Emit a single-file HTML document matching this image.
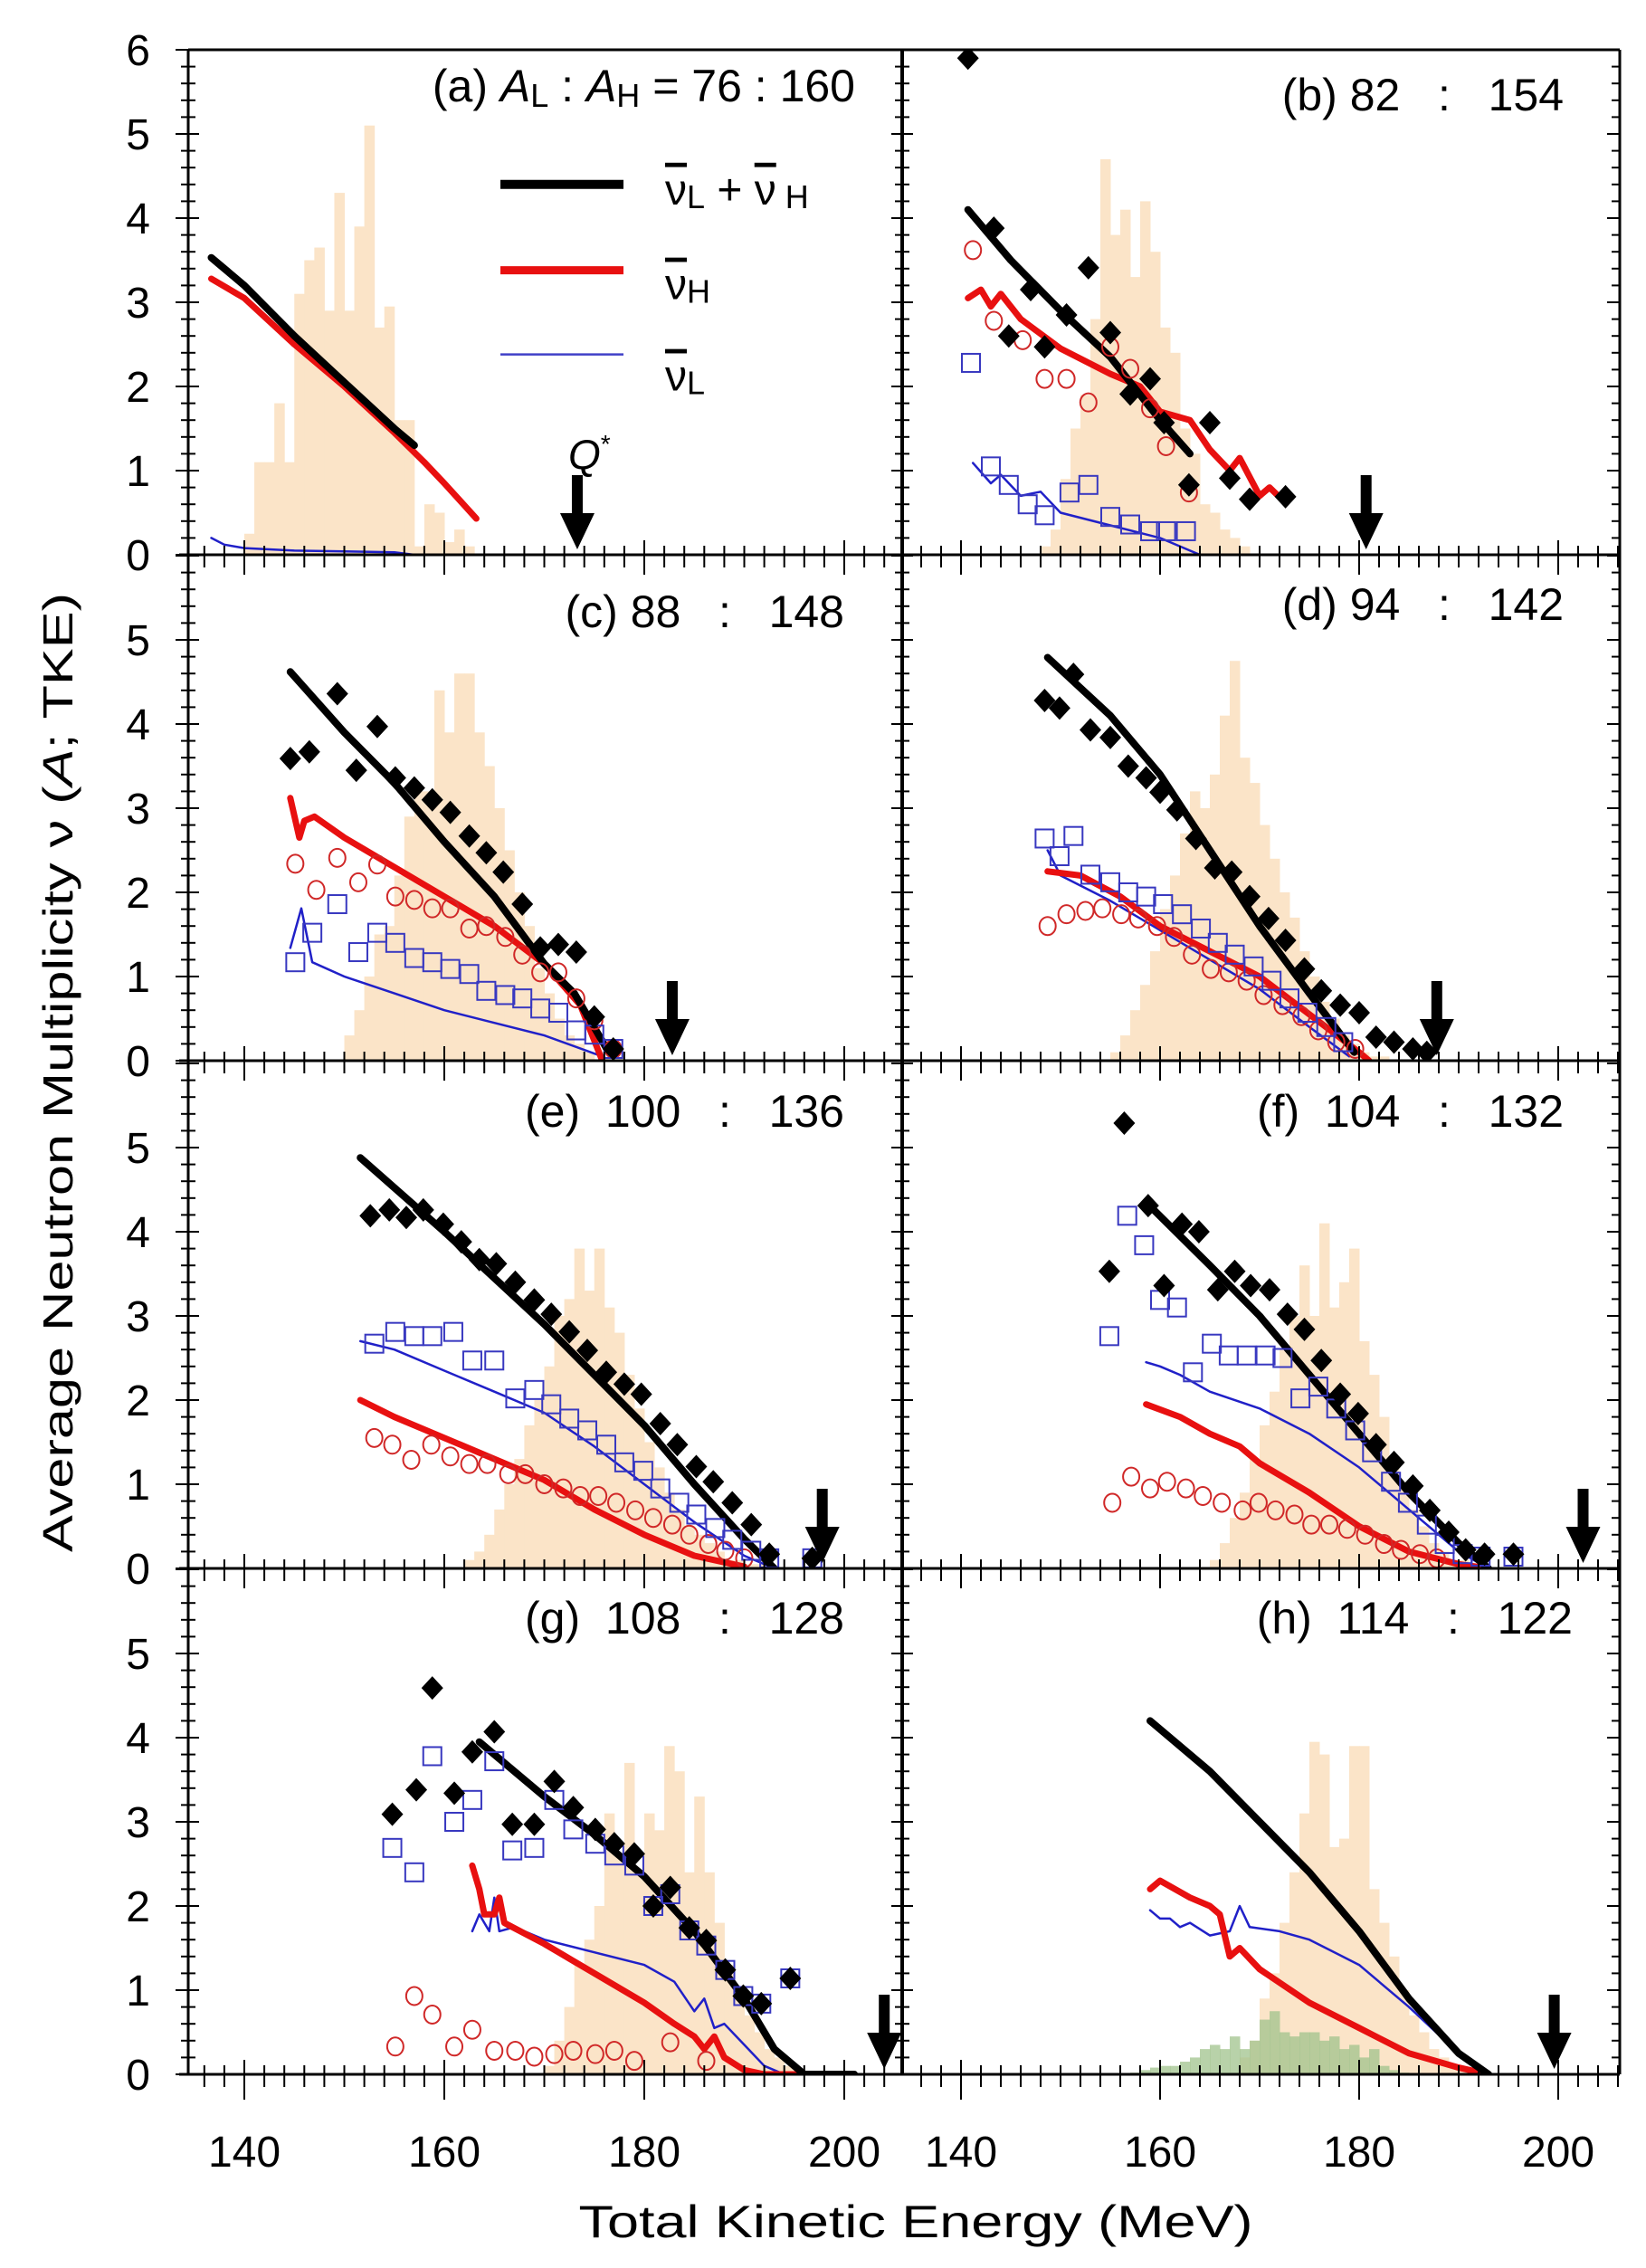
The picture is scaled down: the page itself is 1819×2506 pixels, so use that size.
<!DOCTYPE html>
<html><head><meta charset="utf-8"><title>Average neutron multiplicity vs TKE</title>
<style>
html,body{margin:0;padding:0;background:#fff;}
svg{display:block;}
text{font-family:"Liberation Sans",Arial,sans-serif;fill:#000;}
</style></head>
<body>
<svg id="chart" width="1819" height="2506" viewBox="0 0 1819 2506" xmlns="http://www.w3.org/2000/svg">
<defs>
<clipPath id="clipL0"><rect x="208" y="55" width="789" height="558"/></clipPath>
<clipPath id="clipR0"><rect x="997" y="55" width="793" height="558"/></clipPath>
<clipPath id="clipL1"><rect x="208" y="613" width="789" height="559"/></clipPath>
<clipPath id="clipR1"><rect x="997" y="613" width="793" height="559"/></clipPath>
<clipPath id="clipL2"><rect x="208" y="1172" width="789" height="561"/></clipPath>
<clipPath id="clipR2"><rect x="997" y="1172" width="793" height="561"/></clipPath>
<clipPath id="clipL3"><rect x="208" y="1733" width="789" height="559"/></clipPath>
<clipPath id="clipR3"><rect x="997" y="1733" width="793" height="559"/></clipPath>
</defs>
<g id="marks"></g>
<g id="axes"></g>
</svg>
<script>
// ---------- data ----------
const panelLabels = ["(a)","(b) 82   :   154","(c) 88   :   148","(d) 94   :   142","(e)  100   :   136","(f)  104   :   132","(g)  108   :   128","(h)  114   :   122"];
const xTickValues = [140,160,180,200];
const yTickLabelsTop = [0,1,2,3,4,5,6];
const yTickLabels = [0,1,2,3,4,5];
const qArrows = [173.3,180.7,182.8,187.8,197.8,202.5,204,199.6];

const aBlack=[[136.7,3.53],[140,3.2],[145,2.6],[150,2.05],[155,1.5],[157,1.3]];
const aRed=[[136.7,3.28],[140,3.05],[145,2.5],[150,2.0],[155,1.45],[158,1.1],[160,0.85],[163.2,0.43]];
const aBlue=[[136.7,0.2],[138,0.12],[140,0.08],[145,0.05],[150,0.04],[155,0.03],[157,0.0]];
const aHistStart=140;
const aHist=[0.25,1.1,1.1,1.8,1.1,3.1,3.5,3.65,2.9,4.3,2.9,3.9,5.1,2.7,2.95,1.6,1.6,0.1,0.6,0.5,0.15,0.3,0.1];

const bBlack=[[140.7,4.1],[145,3.5],[150,2.9],[155,2.35],[160,1.6],[163,1.2]];
const bRed=[[140.7,3.05],[142,3.15],[143,2.95],[144,3.1],[146,2.8],[150,2.45],[155,2.15],[158,2.0],[160,1.7],[163,1.6],[165,1.25],[167,1.0],[168,1.15],[170,0.7],[171,0.8],[172.3,0.65]];
const bBlue=[[141.2,1.09],[143,0.85],[144,0.95],[146,0.7],[148,0.75],[150,0.5],[155,0.35],[160,0.2],[164,0]];
const bDiam=[[140.7,5.9],[143.3,3.88],[144.8,2.6],[147,3.15],[148.4,2.47],[150.6,2.85],[152.8,3.41],[155,2.64],[157,1.91],[159,2.09],[160.4,1.57],[162.9,0.83],[165,1.57],[167,0.91],[169,0.66],[172.6,0.69]];
const bCirc=[[141.2,3.62],[143.3,2.78],[146.2,2.55],[148.4,2.09],[150.6,2.09],[152.8,1.81],[155,2.47],[157,2.21],[159,1.74],[160.6,1.29],[162.9,0.74]];
const bSq=[[141,2.28],[143,1.05],[144.8,0.83],[146.7,0.6],[148.4,0.47],[150.9,0.74],[152.8,0.83],[155,0.45],[157,0.36],[159,0.28],[160.6,0.28],[162.6,0.28]];
const bHistStart=148;
const bHist=[0.1,0.3,0.9,1.5,1.9,2.8,4.7,3.8,4.1,3.3,4.2,3.6,2.7,2.4,1.5,1.2,0.6,0.5,0.3,0.2,0.1];

const cBlack=[[144.6,4.62],[150,3.9],[155,3.3],[160,2.6],[165,1.95],[170,1.15],[173,0.8],[176.5,0.09]];
const cRed=[[144.6,3.12],[145.5,2.65],[146,2.85],[147,2.9],[150,2.65],[155,2.3],[160,1.95],[165,1.6],[170,1.15],[173.6,0.66],[175.8,0]];
const cBlue=[[144.6,1.34],[145.7,1.81],[146.8,1.17],[150,1.0],[155,0.8],[160,0.6],[165,0.45],[170,0.3],[175.8,0.05]];
const cDiam=[[144.6,3.59],[146.5,3.67],[149.3,4.36],[151.2,3.45],[153.3,3.97],[155.1,3.36],[157,3.24],[158.8,3.1],[160.6,2.95],[162.5,2.67],[164.2,2.47],[165.9,2.24],[167.8,1.86],[169.6,1.34],[171.4,1.38],[173.2,1.29],[175,0.52],[176.9,0.14]];
const cCirc=[[145.1,2.34],[147.2,2.03],[149.3,2.41],[151.4,2.12],[153.3,2.33],[155.1,1.95],[157,1.91],[158.8,1.81],[160.6,1.81],[162.5,1.57],[164.2,1.6],[166.1,1.47],[167.8,1.26],[169.6,1.05],[171.4,1.05],[173.2,0.74],[175,0.48],[176.9,0.14]];
const cSq=[[145.1,1.17],[146.8,1.52],[149.3,1.86],[151.4,1.29],[153.3,1.52],[155.1,1.4],[157,1.22],[158.8,1.17],[160.6,1.09],[162.5,1.03],[164.2,0.83],[166.1,0.78],[167.8,0.74],[169.6,0.62],[171.4,0.57],[173.2,0.36],[175,0.31],[176.9,0.14]];
const cHistStart=150;
const cHist=[0.3,0.6,1.0,1.5,1.6,2.2,2.9,3.2,3.2,4.4,3.9,4.6,4.6,3.9,3.5,3.0,2.5,2.0,1.6,1.1,0.8,0.5,0.3,0.2,0.1];

const dBlack=[[148.7,4.79],[155,4.1],[160,3.4],[165,2.5],[170,1.6],[175,0.8],[179.5,0.1]];
const dRed=[[148.7,2.25],[152,2.2],[156,1.95],[160,1.6],[165,1.3],[170,1.0],[175,0.55],[180,0.1],[181,0]];
const dBlue=[[148.7,2.5],[150,2.2],[155,1.9],[160,1.55],[165,1.2],[170,0.85],[175,0.4],[179,0.05]];
const dDiam=[[148.4,4.28],[149.9,4.19],[151.3,4.59],[153,3.93],[155,3.84],[156.8,3.5],[158.6,3.36],[160,3.19],[161.7,2.98],[163.6,2.64],[165.5,2.29],[167.2,2.24],[169,1.95],[170.9,1.69],[172.6,1.43],[174.5,1.09],[176.2,0.83],[178.1,0.66],[180,0.57],[181.7,0.28],[183.5,0.22],[185.4,0.14],[186.8,0.1]];
const dCirc=[[148.7,1.6],[150.6,1.74],[152.5,1.78],[154.2,1.81],[156.1,1.74],[157.8,1.69],[159.7,1.6],[161.4,1.47],[163.2,1.26],[165.1,1.09],[166.9,1.05],[168.7,0.95],[170.4,0.78],[172.3,0.66],[174.2,0.53],[175.9,0.36],[177.7,0.22],[179.6,0.14]];
const dSq=[[148.4,2.64],[149.9,2.43],[151.3,2.67],[153,2.21],[155,2.12],[156.8,2.0],[158.6,1.95],[160.3,1.86],[162.2,1.74],[164.1,1.57],[165.8,1.4],[167.5,1.26],[169.4,1.12],[171.2,0.95],[173,0.74],[174.8,0.57],[176.7,0.4],[178.4,0.22]];
const dHistStart=155;
const dHist=[0.1,0.3,0.6,0.9,1.3,1.8,2.2,2.7,3.2,3.0,3.4,4.1,4.75,3.6,3.3,2.8,2.4,2.0,1.7,1.3,1.0,0.7,0.5,0.3,0.2,0.1,0.05,0.05];

const eBlack=[[151.6,4.88],[160,4.0],[170,2.9],[180,1.7],[185,1.0],[190,0.35],[193,0]];
const eRed=[[151.6,2.0],[155,1.8],[160,1.55],[165,1.3],[170,1.05],[175,0.7],[180,0.4],[185,0.15],[190,0.02]];
const eBlue=[[151.6,2.7],[155,2.6],[160,2.35],[165,2.1],[170,1.85],[175,1.45],[180,1.0],[185,0.55],[190,0.15],[193,0]];
const eDiam=[[152.6,4.19],[154.5,4.26],[156.2,4.17],[157.9,4.26],[159.9,4.09],[161.7,3.88],[163.5,3.67],[165.2,3.62],[167.1,3.4],[169,3.19],[170.7,3.02],[172.5,2.81],[174.3,2.59],[176.2,2.33],[178,2.19],[179.7,2.07],[181.6,1.72],[183.3,1.47],[185.2,1.21],[186.9,1.03],[188.8,0.78],[190.7,0.52],[192.5,0.17],[196.8,0.12]];
const eSq=[[153,2.67],[155.1,2.81],[157,2.76],[158.8,2.76],[160.9,2.81],[162.8,2.47],[165,2.47],[167.1,2.02],[169,2.12],[170.7,1.95],[172.5,1.78],[174.3,1.64],[176.2,1.47],[178,1.26],[179.9,1.16],[181.6,0.95],[183.5,0.78],[185.2,0.64],[187.1,0.48],[188.8,0.34],[190.7,0.21],[192.5,0.12],[196.8,0.12]];
const eCirc=[[153,1.55],[154.8,1.47],[156.7,1.29],[158.7,1.47],[160.6,1.33],[162.5,1.24],[164.3,1.24],[166.4,1.12],[168.1,1.12],[170,1.0],[171.9,0.95],[173.6,0.86],[175.4,0.86],[177.2,0.78],[179.1,0.69],[180.9,0.6],[182.8,0.52],[184.5,0.4],[186.4,0.29],[188.1,0.21],[190,0.12]];
const eHistStart=162;
const eHist=[0.1,0.2,0.4,0.7,1.0,1.3,1.7,2.0,2.4,3.0,3.2,3.8,3.3,3.8,3.1,2.8,2.3,1.9,1.5,1.2,0.9,0.7,0.5,0.4,0.3,0.2,0.1,0.1,0.05,0.05];

const fBlack=[[158.6,4.35],[165,3.6],[170,3.0],[175,2.3],[180,1.6],[185,0.9],[190,0.3],[193,0]];
const fRed=[[158.6,1.95],[162,1.8],[165,1.6],[168,1.45],[170,1.25],[175,0.9],[180,0.5],[185,0.2],[190,0.05],[193,0]];
const fBlue=[[158.6,2.45],[160,2.4],[162,2.3],[165,2.1],[170,1.9],[175,1.6],[180,1.2],[185,0.7],[190,0.2],[193,0]];
const fDiam=[[156.4,5.29],[154.9,3.53],[158.8,4.31],[160.4,3.36],[162.2,4.09],[163.9,4.0],[165.8,3.31],[167.5,3.53],[169.1,3.36],[171,3.31],[172.8,3.02],[174.5,2.84],[176.2,2.47],[178.1,2.07],[179.9,1.84],[181.7,1.47],[183.5,1.26],[185.4,0.98],[187.1,0.69],[189,0.43],[190.7,0.22],[192.6,0.17],[195.5,0.17]];
const fSq=[[154.9,2.76],[156.7,4.19],[158.4,3.84],[160,3.19],[161.7,3.1],[163.3,2.33],[165.2,2.67],[166.9,2.53],[168.7,2.53],[170.6,2.53],[172.3,2.5],[174.1,2.02],[175.9,2.16],[177.7,1.9],[179.6,1.64],[181.3,1.38],[183.2,1.03],[184.9,0.78],[186.8,0.52],[188.6,0.29],[190.4,0.17],[192.2,0.14],[195.5,0.14]];
const fCirc=[[155.2,0.78],[157.1,1.09],[159,0.95],[160.7,1.03],[162.6,0.95],[164.3,0.86],[166.2,0.78],[168.3,0.69],[169.9,0.78],[171.6,0.69],[173.5,0.64],[175.2,0.52],[177,0.52],[178.8,0.47],[180.6,0.4],[182.5,0.29],[184.2,0.22],[186.1,0.17],[187.8,0.12]];
const fHistStart=165;
const fHist=[0.1,0.3,0.6,0.9,1.3,1.7,2.1,2.6,3.0,3.6,3.0,4.1,3.1,3.4,3.8,2.7,2.3,1.8,1.3,1.0,0.7,0.5,0.3,0.2,0.1,0.1,0.05];

const gBlack=[[163.5,3.95],[170,3.3],[175,2.85],[180,2.35],[185,1.7],[190,0.9],[193,0.3],[196,0],[201,0]];
const gRed=[[162.8,2.48],[163.5,2.2],[164,1.9],[165,1.9],[165.5,2.1],[166,1.8],[170,1.55],[175,1.2],[180,0.85],[183,0.6],[185,0.45],[186,0.3],[187,0.45],[188,0.2],[190,0.05],[192,0],[201,0]];
const gBlue=[[162.8,1.7],[163.5,1.9],[164.5,1.7],[165,2.1],[165.5,1.7],[167,1.75],[170,1.6],[175,1.45],[180,1.3],[183,1.1],[185,0.75],[186,0.9],[187,0.55],[188,0.6],[190,0.35],[192,0.1],[194,0]];
const gDiam=[[154.8,3.09],[157.2,3.38],[158.8,4.59],[161,3.34],[162.8,3.83],[165,4.07],[166.8,2.97],[169,2.97],[171,3.48],[172.9,3.17],[175.1,2.91],[177,2.74],[179,2.62],[180.9,2.0],[182.6,2.22],[184.5,1.74],[186.2,1.59],[188.1,1.24],[189.9,0.93],[191.7,0.84],[194.6,1.14]];
const gSq=[[154.8,2.69],[157,2.4],[158.8,3.78],[161,3.0],[162.8,3.26],[165,3.72],[166.8,2.66],[169,2.69],[171,3.26],[172.9,2.91],[175.1,2.74],[177,2.6],[179,2.48],[180.9,2.0],[182.6,2.14],[184.5,1.71],[186.2,1.53],[188.1,1.24],[189.9,0.93],[191.7,0.84],[194.6,1.14]];
const gCirc=[[155.1,0.33],[157,0.93],[158.8,0.71],[161,0.33],[162.8,0.53],[165,0.28],[167.1,0.28],[169,0.21],[171,0.24],[172.9,0.28],[175.1,0.24],[177,0.28],[179,0.16],[182.6,0.38],[186.2,0.16]];
const gHistStart=170;
const gHist=[0.1,0.4,0.8,1.3,1.6,2.0,3.1,2.6,3.7,2.4,3.1,2.9,3.9,3.6,2.4,3.3,2.4,1.8,1.3,1.0,0.7,0.5,0.3,0.2,0.1,0.05];

const hBlack=[[159,4.2],[165,3.6],[170,3.0],[175,2.4],[180,1.7],[185,0.9],[190,0.25],[193,0]];
const hRed=[[159,2.2],[160,2.3],[163,2.1],[165,2.0],[166,1.9],[167,1.4],[168,1.5],[170,1.25],[175,0.85],[180,0.55],[185,0.25],[190,0.08],[193,0]];
const hBlue=[[159,1.95],[160,1.85],[161,1.85],[162,1.75],[163,1.8],[165,1.65],[167,1.7],[168,2.0],[169,1.75],[172,1.7],[175,1.6],[180,1.3],[185,0.8],[190,0.25],[193,0]];
const hHistStart=168;
const hHist=[0.2,0.4,0.9,1.2,1.8,2.4,3.1,3.95,3.8,2.7,2.8,3.9,3.9,2.2,1.8,1.4,1.0,0.7,0.5,0.3,0.2,0.1,0.05,0.05];
const hGreenStart=157;
const hGreen=[0.02,0.05,0.08,0.1,0.1,0.15,0.2,0.3,0.35,0.3,0.45,0.3,0.4,0.65,0.75,0.5,0.45,0.5,0.5,0.4,0.45,0.3,0.35,0.2,0.3,0.1,0.05,0.02];

// ---------- geometry ----------
const NS="http://www.w3.org/2000/svg";
const rowBottom=[613,1172,1733,2292];
const rowTop=[55,613,1172,1733];
const unit=93;
const leftX0=208, midX=997, rightX1=1790;
function xScale(side,E){return side===0 ? 270+(E-140)*11.05 : 1062+(E-140)*11.0;}
function yScale(row,v){return rowBottom[row]-v*unit;}
const marks=document.getElementById('marks');
const axes=document.getElementById('axes');
function mk(tag,attrs,parent){const e=document.createElementNS(NS,tag);for(const k in attrs)e.setAttribute(k,attrs[k]);(parent||marks).appendChild(e);return e;}

const panels=[
 {id:'a',side:0,row:0,black:aBlack,red:aRed,blue:aBlue,hist:aHist,hs:aHistStart},
 {id:'b',side:1,row:0,black:bBlack,red:bRed,blue:bBlue,diam:bDiam,circ:bCirc,sq:bSq,hist:bHist,hs:bHistStart},
 {id:'c',side:0,row:1,black:cBlack,red:cRed,blue:cBlue,diam:cDiam,circ:cCirc,sq:cSq,hist:cHist,hs:cHistStart},
 {id:'d',side:1,row:1,black:dBlack,red:dRed,blue:dBlue,diam:dDiam,circ:dCirc,sq:dSq,hist:dHist,hs:dHistStart},
 {id:'e',side:0,row:2,black:eBlack,red:eRed,blue:eBlue,diam:eDiam,circ:eCirc,sq:eSq,hist:eHist,hs:eHistStart},
 {id:'f',side:1,row:2,black:fBlack,red:fRed,blue:fBlue,diam:fDiam,circ:fCirc,sq:fSq,hist:fHist,hs:fHistStart},
 {id:'g',side:0,row:3,black:gBlack,red:gRed,blue:gBlue,diam:gDiam,circ:gCirc,sq:gSq,hist:gHist,hs:gHistStart},
 {id:'h',side:1,row:3,black:hBlack,red:hRed,blue:hBlue,hist:hHist,hs:hHistStart,green:hGreen,gs:hGreenStart}
];

panels.forEach((p,i)=>{
  const g=mk('g',{'clip-path':`url(#clip${p.side?'R':'L'}${p.row})`});
  
  
  const X=E=>xScale(p.side,E), Y=v=>yScale(p.row,v);
  function hist(arr,start,color,name){
    arr.forEach((h,k)=>{
      const x0=X(start+k), x1=X(start+k+1);
      const r=mk('rect',{x:x0,y:Y(h),width:x1-x0+0.5,height:Y(0)-Y(h),fill:color},g);
      
      
    });
  }
  hist(p.hist,p.hs,'#fbe4c8','tke-histogram-bar');
  if(p.green) hist(p.green,p.gs,'rgba(160,195,140,0.75)','green-histogram-bar');
  function line(arr,color,w,name){
    const pl=mk('polyline',{points:arr.map(d=>X(d[0]).toFixed(1)+','+Y(d[1]).toFixed(1)).join(' '),fill:'none',stroke:color,'stroke-width':w,'stroke-linejoin':'round','stroke-linecap':'round'},g);
    
    
  }
  line(p.blue,'#2020c8',2.5,'nu-light-line');
  line(p.red,'#e81010',7,'nu-heavy-line');
  line(p.black,'#000',8,'nu-total-line');
  (p.circ||[]).forEach(d=>{
    const c=mk('ellipse',{cx:X(d[0]),cy:Y(d[1]),rx:9,ry:10,fill:'none',stroke:'#d02828','stroke-width':2},g);
    
    
  });
  (p.sq||[]).forEach(d=>{
    const s=mk('rect',{x:X(d[0])-10,y:Y(d[1])-10,width:20,height:20,fill:'none',stroke:'#3838c0','stroke-width':2},g);
    
    
  });
  (p.diam||[]).forEach(d=>{
    const x=X(d[0]),y=Y(d[1]);
    const m=mk('polygon',{points:`${x},${y-13} ${x+12},${y} ${x},${y+13} ${x-12},${y}`,fill:'#000'},g);
    
    
  });
  const ax=X(qArrows[i]), yb=Y(0)-6, yt=yb-82;
  const ar=mk('path',{d:`M${ax-6},${yt} L${ax+6},${yt} L${ax+6},${yb-40} L${ax+19},${yb-40} L${ax},${yb} L${ax-19},${yb-40} L${ax-6},${yb-40} Z`,fill:'#000'},g);
  
  
});

// ---------- axes / frames ----------
function ln(x1,y1,x2,y2,w,name){const l=mk('line',{x1,y1,x2,y2,stroke:'#000','stroke-width':w},axes);return l;}
ln(leftX0,55,rightX1,55,3,'frame-top');
ln(leftX0,55,leftX0,2292,3,'y-axis-left');
ln(midX,55,midX,2292,4,'panel-divider');
ln(rightX1,55,rightX1,2292,3,'frame-right');
rowBottom.forEach(yb=>ln(leftX0-10,yb,rightX1,yb,3,'x-axis-line'));
for(let side=0;side<2;side++){
  const xmin=side?midX:leftX0, xmax=side?rightX1:midX;
  for(let E=130;E<=210;E+=2){
    const x=xScale(side,E); if(x<xmin+2||x>xmax-2)continue;
    const major=(E%20===0);
    rowBottom.forEach((yb,r)=>{
      ln(x,yb,x,yb+(major?(r===3?28:22):14),2,major?'x-major-tick':'x-minor-tick');
      ln(x,yb,x,yb-(major?16:10),2,'x-tick-inner');
    });
  }
}
rowBottom.forEach((yb,r)=>{
  for(let k=0;k<=30;k++){
    const y=yb-k*unit/5; if(y<rowTop[r]-1)break;
    const major=(k%5===0);
    ln(leftX0-(major?14:8),y,leftX0+(major?12:8),y,2,major?'y-major-tick':'y-minor-tick');
    ln(midX-(major?12:8),y,midX+(major?12:8),y,2,'y-tick-divider');
    ln(rightX1-(major?14:9),y,rightX1,y,2,'y-tick-right');
  }
});
function txt(s,attrs,name){const t=mk('text',attrs,axes);t.textContent=s;return t;}
rowBottom.forEach((yb,r)=>{
  const labs=r===0?yTickLabelsTop:yTickLabels;
  labs.forEach(v=>txt(String(v),{x:166,y:yb-v*unit+17,'font-size':48,'text-anchor':'end'},'y-tick-label'));
});
for(let side=0;side<2;side++){
  xTickValues.forEach(v=>txt(String(v),{x:xScale(side,v),y:2394,'font-size':48,'text-anchor':'middle'},'x-tick-label'));
}
txt('Total  Kinetic  Energy  (MeV)',{x:1012,y:2472,'font-size':50,'text-anchor':'middle',textLength:745,lengthAdjust:'spacingAndGlyphs'},'x-axis-title');
const yt=txt('Average  Neutron  Multiplicity  ν (A; TKE)',{x:0,y:0,'font-size':46,'text-anchor':'middle',transform:'translate(80,1185) rotate(-90)',textLength:1060,lengthAdjust:'spacingAndGlyphs'},'y-axis-title');
yt.innerHTML='Average  Neutron  Multiplicity  ν (<tspan font-style="italic">A</tspan>; TKE)';

const labPos=[[945,112],[1728,122],[933,693],[1728,685],[933,1245],[1728,1245],[933,1805],[1738,1805]];
panels.forEach((p,i)=>{
  if(i===0){
    const t=txt('',{x:945,y:112,'font-size':50,'text-anchor':'end'},'panel-label-a');
    t.innerHTML='(a) <tspan font-style="italic">A</tspan><tspan font-size="36" dy="6">L</tspan><tspan dy="-6">  :  </tspan><tspan font-style="italic">A</tspan><tspan font-size="36" dy="6">H</tspan><tspan dy="-6">  =  76  :  160</tspan>';
  } else {
    const t=txt(panelLabels[i],{x:labPos[i][0],y:labPos[i][1],'font-size':50,'text-anchor':'end'},'panel-label-'+p.id);
    t.setAttribute('xml:space','preserve');
    t.style.whiteSpace='pre';
  }
});
const legY=[4.4,3.38,2.38].map(v=>yScale(0,v));
ln(553,legY[0],689,legY[0],10,'legend-total-line');
const lr=ln(553,legY[1],689,legY[1],9,'legend-heavy-line'); lr.setAttribute('stroke','#e81010');
const lb=ln(553,legY[2],689,legY[2],2.5,'legend-light-line'); lb.setAttribute('stroke','#4040c8');
const t1=txt('',{x:735,y:legY[0]+22,'font-size':48},'legend-total-label');
t1.innerHTML='<tspan text-decoration="overline">ν</tspan><tspan font-size="36" dy="4">L</tspan><tspan dy="-4"> + </tspan><tspan text-decoration="overline">ν</tspan><tspan font-size="36" dy="4"> H</tspan>';
const t2=txt('',{x:735,y:legY[1]+32,'font-size':48},'legend-heavy-label');
t2.innerHTML='<tspan text-decoration="overline">ν</tspan><tspan font-size="36" dy="4">H</tspan>';
const t3=txt('',{x:735,y:legY[2]+40,'font-size':48},'legend-light-label');
t3.innerHTML='<tspan text-decoration="overline">ν</tspan><tspan font-size="36" dy="4">L</tspan>';
const q=txt('',{x:628,y:518,'font-size':46},'q-star-label');
q.innerHTML='<tspan font-style="italic">Q</tspan><tspan font-size="28" dy="-18">*</tspan>';
</script>
</body></html>
